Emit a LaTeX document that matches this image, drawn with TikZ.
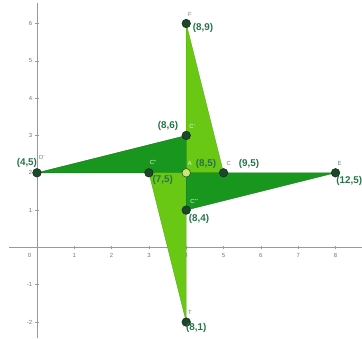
\documentclass[tikz,border=0pt]{standalone}
\usepackage{fontspec}
\setmainfont{Liberation Sans}
\begin{document}
\begin{tikzpicture}[x=1cm,y=1cm,
  axis/.style={draw=black!40, line width=0.5pt},
  ticklab/.style={text=black!55, font=\fontsize{4.5}{5}\selectfont, inner sep=0pt},
  lightTri/.style={fill=lightg, draw=lightg!85!black, line width=0.3pt},
  darkTri/.style={fill=darkg, draw=darkg!80!black, line width=0.3pt},
  pt/.style={circle, fill=ptc, draw=ptc!60!black, line width=0.4pt, minimum size=0.23cm, inner sep=0pt},
  ptA/.style={circle, fill=ptAc, draw=ptc, line width=0.4pt, minimum size=0.23cm, inner sep=0pt},
  coordlab/.style={text=labc, font=\bfseries\fontsize{7.5}{8}\selectfont, inner sep=0pt},
  namelab/.style={text=namec, font=\fontsize{4.5}{5}\selectfont, inner sep=0pt},
  namelabL/.style={text=white!85!green, font=\fontsize{4.5}{5}\selectfont, inner sep=0pt}
]
\definecolor{lightg}{RGB}{104,200,20}
\definecolor{darkg}{RGB}{24,150,30}
\definecolor{ptc}{RGB}{28,72,42}
\definecolor{ptAc}{RGB}{205,230,110}
\definecolor{labc}{RGB}{38,115,75}
\definecolor{namec}{RGB}{110,140,120}
\useasboundingbox (-0.99,-2.43) rectangle (8.71,6.63);
% axes
\draw[axis] (-0.75,0) -- (8.71,0);
\draw[axis] (0,-2.43) -- (0,6.55);
\foreach \i in {1,...,8} {
  \draw[axis] (\i,-0.05) -- (\i,0.05);
  \node[ticklab] (xl\i) at (\i,-0.22) {\i};
}
\node[ticklab] (xl0) at (-0.2,-0.22) {0};
\foreach \j in {-2,-1,1,2,3,4,5,6} {
  \draw[axis] (-0.05,\j) -- (0.05,\j);
  \node[ticklab, anchor=east] (yl\j) at (-0.12,\j) {\j};
}
% coordinates
\coordinate (A) at (4,2);
\coordinate (F) at (4,6);
\coordinate (C) at (5,2);
\coordinate (Dp) at (0,2);
\coordinate (Cp) at (4,3);
\coordinate (T) at (4,-2);
\coordinate (Cpp) at (3,2);
\coordinate (E) at (8,2);
\coordinate (Cppp) at (4,1);
% triangles
\draw[lightTri] (A) -- (F) -- (C) -- cycle;
\draw[darkTri] (A) -- (Dp) -- (Cp) -- cycle;
\draw[lightTri] (A) -- (T) -- (Cpp) -- cycle;
\draw[darkTri] (A) -- (E) -- (Cppp) -- cycle;
% points
\node[pt] (pF) at (F) {};
\node[pt] (pCp) at (Cp) {};
\node[pt] (pDp) at (Dp) {};
\node[pt] (pCpp) at (Cpp) {};
\node[pt] (pC) at (C) {};
\node[pt] (pE) at (E) {};
\node[pt] (pCppp) at (Cppp) {};
\node[pt] (pT) at (T) {};
\node[ptA] (pA) at (A) {};
% name labels
\node[namelab] (nF) at (4.10,6.23) {F};
\node[namelabL] (nCp) at (4.16,3.24) {C'};
\node[namelabL] (nA) at (4.10,2.25) {A};
\node[namelab] (nC) at (5.14,2.25) {C};
\node[namelab] (nE) at (8.11,2.25) {E};
\node[namelab] (nDp) at (0.13,2.41) {D'};
\node[namelabL] (nCpp) at (3.11,2.27) {C''};
\node[namelabL] (nCppp) at (4.21,1.23) {C'''};
\node[namelab] (nT) at (4.10,-1.74) {T};
% coordinate labels
\node[coordlab] (l89) at (4.45,5.88) {(8,9)};
\node[coordlab] (l86) at (3.51,3.26) {(8,6)};
\node[coordlab] (l85) at (4.53,2.25) {(8,5)};
\node[coordlab] (l95) at (5.68,2.25) {(9,5)};
\node[coordlab] (l125) at (8.37,1.79) {(12,5)};
\node[coordlab] (l45) at (-0.27,2.27) {(4,5)};
\node[coordlab] (l75) at (3.37,1.82) {(7,5)};
\node[coordlab] (l84) at (4.34,0.75) {(8,4)};
\node[coordlab] (l81) at (4.27,-2.17) {(8,1)};
\end{tikzpicture}
\end{document}
